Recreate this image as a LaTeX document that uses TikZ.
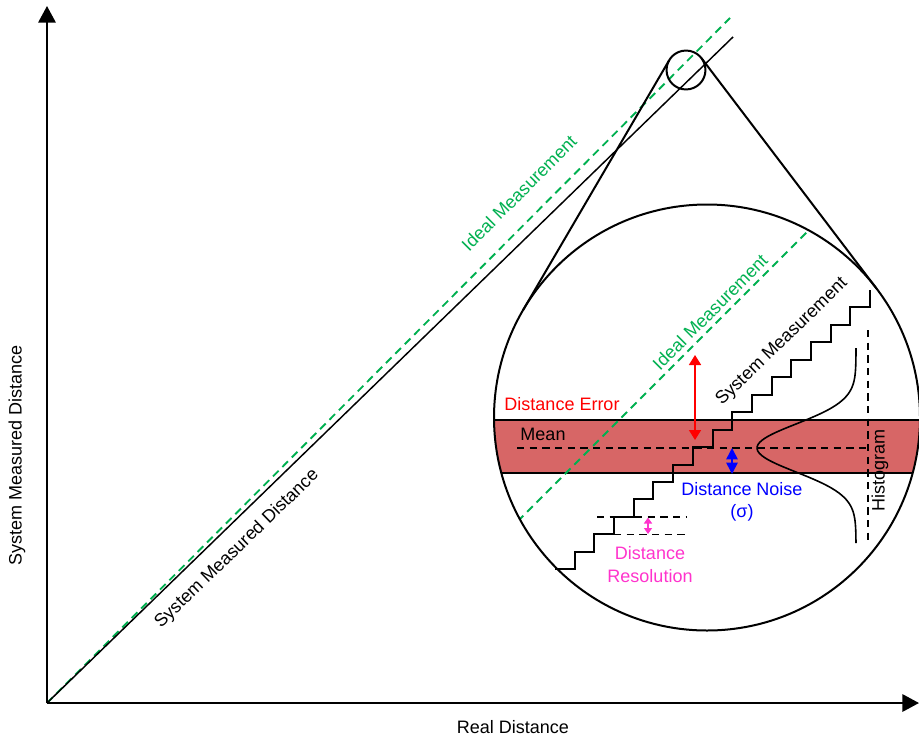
\documentclass[tikz,border=0pt]{standalone}
\usepackage{fontspec}
\setmainfont{Liberation Sans}
\usetikzlibrary{arrows.meta,calc}
\definecolor{idealgreen}{RGB}{0,176,80}
\definecolor{bandred}{RGB}{215,102,102}
\definecolor{resmag}{RGB}{255,51,204}
\begin{document}
\begin{tikzpicture}[x=0.75pt,y=-0.75pt,
  every node/.style={font=\fontsize{13.5}{17}\selectfont, inner sep=0pt},
  axisline/.style={line width=1.7pt, -{Triangle[length=12.5pt,width=13pt]}},
  thinline/.style={line width=1.1pt},
  idealline/.style={idealgreen, line width=1.4pt, dash pattern=on 6pt off 4pt},
  blkdash/.style={line width=1.1pt, dash pattern=on 5.5pt off 4pt},
  circline/.style={line width=1.5pt},
  stair/.style={line width=1.5pt},
  bandline/.style={line width=1.6pt},
  errarrow/.style={red, line width=1.2pt, {Triangle[length=7.5pt,width=9pt]}-{Triangle[length=7.5pt,width=9pt]}},
  noisearrow/.style={blue, line width=1.2pt, {Triangle[length=8.5pt,width=8.5pt]}-{Triangle[length=8.5pt,width=8.5pt]}},
  resarrow/.style={resmag, line width=1.1pt, {Triangle[length=4.5pt,width=6pt]}-{Triangle[length=4.5pt,width=6pt]}}
]
\useasboundingbox (0,0) rectangle (919,738);

% key points
\coordinate (O) at (47,703);
\coordinate (Ytop) at (47,6);
\coordinate (Xend) at (919,703);
\coordinate (Bend) at (733,37);
\coordinate (Gend) at (730,18);
\coordinate (C1) at (686,70);
\coordinate (C2) at (707,417.5);
\coordinate (T1a) at (669.2,60.2);
\coordinate (T2a) at (523.1,310);
\coordinate (T1b) at (701.5,58.2);
\coordinate (T2b) at (876.6,288.7);

% outer lines
\draw[idealline] (O) -- (Gend);
\draw[thinline] (O) -- (Bend);

% zoom lines and circles
\draw[circline] (T1a) -- (T2a);
\draw[circline] (T1b) -- (T2b);
\draw[circline] (C1) circle[radius=14.6pt];

% inside big circle
\begin{scope}
  \clip (C2) circle[radius=159.75pt];
  \fill[bandred] (480,420) rectangle (930,473);
  \draw[bandline] (480,420) -- (930,420);
  \draw[bandline] (480,473) -- (930,473);
  \draw[idealline] (480,559) -- (860,179);
\end{scope}
\draw[circline] (C2) circle[radius=159.75pt];

% staircase
\draw[stair] (555,569.3) \foreach \k in {1,...,16} { -| ({555+19.6875*\k},{569.3-17.456*\k}) };

% mean and histogram guides
\coordinate (M1) at (517,448);
\coordinate (M2) at (868,448);
\coordinate (H1) at (868,330);
\coordinate (H2) at (868,542);
\draw[blkdash] (M1) -- (M2);
\draw[blkdash] (H1) -- (H2);

% gaussian
\draw[line width=1.2pt] plot[domain=-100:95, samples=90, smooth] ({856-99*exp(-(\x*\x)/1152)},{448+\x});

% resolution
\coordinate (R1a) at (597,516.9);
\coordinate (R1b) at (687,516.9);
\coordinate (R2a) at (614,534.4);
\coordinate (R2b) at (687,534.4);
\draw[blkdash] (R1a) -- (R1b);
\draw[blkdash] (R2a) -- (R2b);
\coordinate (RA1) at (648,517.5);
\coordinate (RA2) at (648,534);
\draw[resarrow] (RA1) -- (RA2);

% error and noise arrows
\coordinate (E1) at (695,355);
\coordinate (E2) at (695,440);
\draw[errarrow] (E1) -- (E2);
\coordinate (N1) at (732,448);
\coordinate (N2) at (732,474);
\draw[noisearrow] (N1) -- (N2);

% texts
\node[text=red] (err) at (562,404) {Distance Error};
\node (mean) at (543,434) {Mean};
\node[text=blue, align=center] (noise) at (742,502) {Distance Noise\\(σ)};
\node[text=resmag, align=center] (res) at (650,564.5) {Distance\\Resolution};
\node[rotate=90] (hist) at (880,470.5) {Histogram};
\node[rotate=44] (sysm) at (782,342) {System Measurement};
\node[text=idealgreen, rotate=45] (idin) at (710,312) {Ideal Measurement};
\node[text=idealgreen, rotate=45] (idout) at (519,193) {Ideal Measurement};
\node[rotate=44] (smd) at (237,549) {System Measured Distance};
\node[rotate=90] (ylab) at (17,455) {System Measured Distance};
\node (xlab) at (513,727) {Real Distance};

% axes
\draw[axisline] (O) -- (Ytop);
\draw[axisline] (O) -- (Xend);
\end{tikzpicture}
\end{document}
